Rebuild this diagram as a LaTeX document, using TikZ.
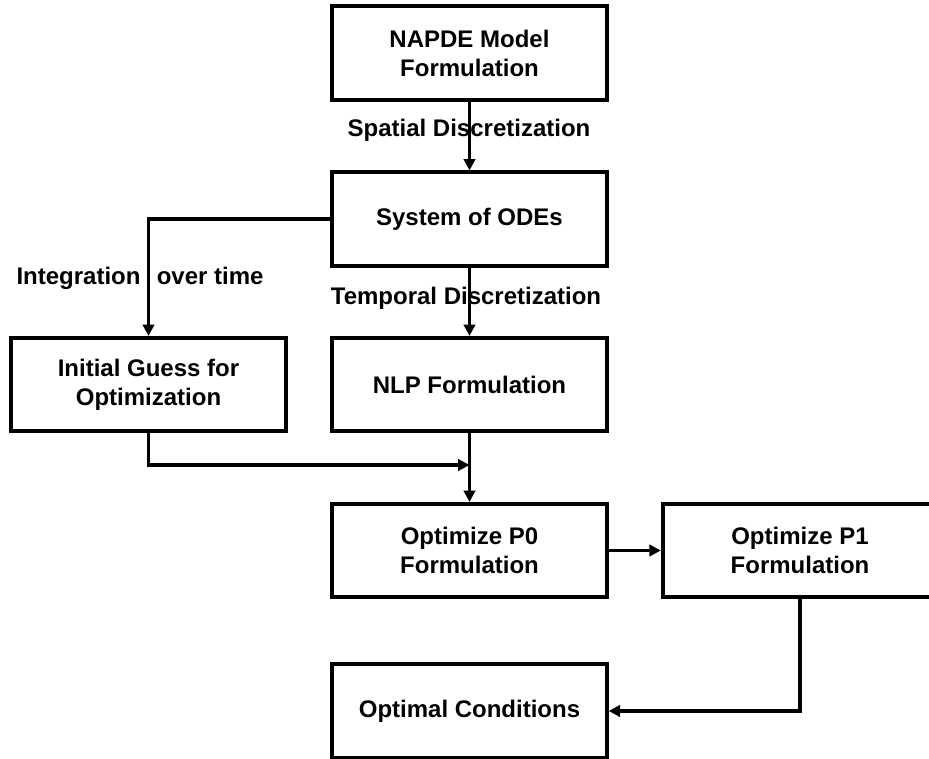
\documentclass[tikz,border=0pt]{standalone}
\usepackage{fontspec}
\setmainfont{Liberation Sans}
\usetikzlibrary{arrows.meta}

\begin{document}
\begin{tikzpicture}[
    x=0.75pt, y=-0.75pt,
    block/.style={rectangle, draw, line width=2.8pt, minimum width=206pt, minimum height=70pt, align=center, font=\fontsize{18pt}{21.75pt}\selectfont\bfseries},
    lbl/.style={font=\fontsize{18pt}{21.75pt}\selectfont\bfseries},
    arrow/.style={-{Triangle[length=8.5pt,width=8.5pt]}, line width=2.5pt}
]
    \useasboundingbox (0,0) rectangle (929,759);

    % main column
    \node[block] (napde) at (469.5, 53) {NAPDE Model\\Formulation};
    \node[block] (odes) at (469.5, 219) {System of ODEs};
    \node[block] (nlp) at (469.5, 384.5) {NLP Formulation};
    \node[block] (p0) at (469.5, 550.5) {Optimize P0\\Formulation};
    \node[block] (oc) at (469.5, 711) {Optimal Conditions};

    % side boxes
    \node[block] (guess) at (148.5, 384.5) {Initial Guess for\\Optimization};
    \node[block] (p1) at (800, 550.5) {Optimize P1\\Formulation};

    % edge labels
    \node[lbl] (lblspatial) at (469, 130) {Spatial Discretization};
    \node[lbl] (lblinteg) at (140, 278) {Integration\hspace{0.4em} over time};
    \node[lbl] (lbltemporal) at (466, 298) {Temporal Discretization};

    \coordinate (join) at (469.5, 465);

    \draw[arrow] (napde) -- (odes);
    \draw[arrow] (odes.west) -| (guess);
    \draw[arrow] (odes) -- (nlp);
    \draw[arrow] (guess) |- (join);
    \draw[arrow] (nlp) -- (p0);
    \draw[arrow] (p0) -- (p1);
    \draw[arrow] (p1) |- (oc);
\end{tikzpicture}
\end{document}
